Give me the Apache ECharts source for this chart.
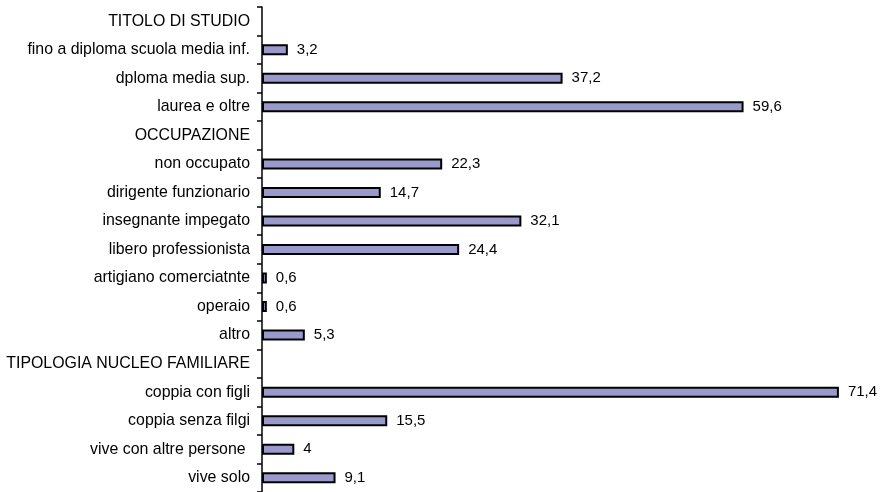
<!DOCTYPE html>
<html>
<head>
<meta charset="UTF-8">
<title>chart</title>
<script src="https://cdn.jsdelivr.net/npm/echarts@6/dist/echarts.min.js"></script>
<style>
    html, body, #main { width: 886px; height: 492px; margin: 0; padding: 0; background: #fff; }
</style>
</head>
<body>
<div id="main"></div>
<script>
    // categories top to bottom; header rows carry no value
    const categories = [
        'TITOLO DI STUDIO',
        'fino a diploma scuola media inf.',
        'dploma media sup.',
        'laurea e oltre',
        'OCCUPAZIONE',
        'non occupato',
        'dirigente funzionario',
        'insegnante impegato',
        'libero professionista',
        'artigiano comerciatnte',
        'operaio',
        'altro',
        'TIPOLOGIA NUCLEO FAMILIARE',
        'coppia con figli',
        'coppia senza filgi',
        'vive con altre persone ',
        'vive solo'
    ];
    const values = [null, 3.2, 37.2, 59.6, null, 22.3, 14.7, 32.1, 24.4, 0.6, 0.6, 5.3, null, 71.4, 15.5, 4, 9.1];

    var myChart = echarts.init(document.getElementById('main'));
    var option = {
        animation: false,
        grid: { left: 262, right: 18, top: 7, bottom: 0 },
        xAxis: {
            type: 'value',
            min: 0,
            max: 75,
            show: false
        },
        yAxis: {
            type: 'category',
            inverse: true,
            data: categories,
            axisLine: { show: true, lineStyle: { color: '#000', width: 1.5 } },
            axisTick: { show: true, length: 5, lineStyle: { color: '#000', width: 1.5 } },
            axisLabel: {
                color: '#000',
                fontFamily: 'Liberation Sans, Arial',
                fontSize: 15.9,
                margin: 12
            }
        },
        series: [{
            type: 'bar',
            data: values,
            barWidth: 11,
            itemStyle: {
                color: '#9999cc',
                borderColor: '#000',
                borderWidth: 2
            },
            label: {
                show: true,
                position: 'right',
                distance: 9,
                color: '#000',
                fontFamily: 'Liberation Sans, Arial',
                fontSize: 15,
                formatter: function (p) {
                    return String(p.value).replace('.', ',');
                }
            }
        }]
    };
    myChart.setOption(option);
</script>
</body>
</html>
